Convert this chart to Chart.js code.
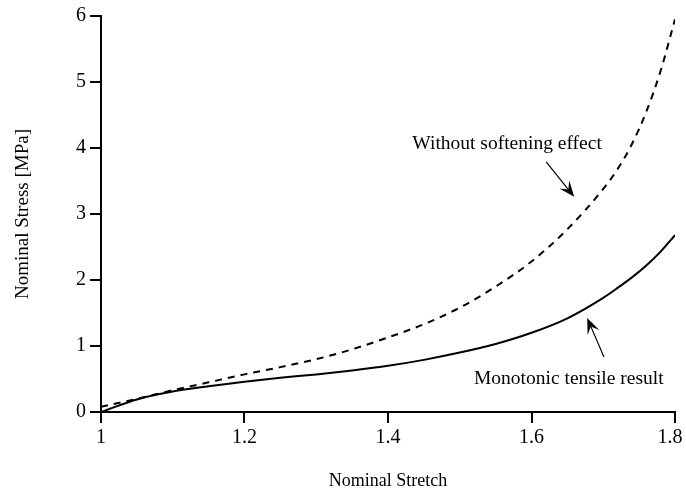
<!DOCTYPE html>
<html>
<head>
<meta charset="utf-8">
<script src="https://cdn.jsdelivr.net/npm/chart.js@4.4.0/dist/chart.umd.min.js"></script>
<style>
  html, body { margin: 0; padding: 0; background: #fff; }
  #wrap { width: 686px; height: 490px; }
</style>
</head>
<body>
<div id="wrap"><canvas id="c" width="686" height="490"></canvas></div>
<script>
// Nominal stretch values
const stretch = [1.00, 1.05, 1.10, 1.15, 1.20, 1.25, 1.30, 1.35, 1.40, 1.45, 1.50, 1.55, 1.60, 1.65, 1.70, 1.72, 1.74, 1.76, 1.78, 1.80];
// Monotonic tensile result (solid)
const monotonic = [0.00, 0.19, 0.31, 0.39, 0.46, 0.52, 0.57, 0.63, 0.70, 0.79, 0.90, 1.03, 1.20, 1.42, 1.73, 1.88, 2.04, 2.22, 2.43, 2.68];
// Without softening effect (dashed)
const noSoftening = [0.08, 0.20, 0.33, 0.45, 0.57, 0.68, 0.80, 0.95, 1.13, 1.33, 1.58, 1.90, 2.28, 2.77, 3.38, 3.68, 4.06, 4.55, 5.17, 5.95];

const xTicks = [1, 1.2, 1.4, 1.6, 1.8];
const yTicks = [0, 1, 2, 3, 4, 5, 6];

const labelTexts = ['Without softening effect', 'Monotonic tensile result'];

const FONT = '"Liberation Serif", "Times New Roman", serif';

function pts(xs, ys) { return xs.map((x, i) => ({ x: x, y: ys[i] })); }

const annotPlugin = {
  id: 'annot',
  afterDatasetsDraw(chart) {
    const { ctx, scales: { x, y } } = chart;
    const X = v => x.getPixelForValue(v), Y = v => y.getPixelForValue(v);
    ctx.save();
    ctx.fillStyle = '#000';
    ctx.strokeStyle = '#000';
    ctx.font = '19.5px ' + FONT;
    ctx.textAlign = 'center';
    ctx.textBaseline = 'middle';
    ctx.fillText(labelTexts[0], X(1.566), Y(4.07));
    ctx.fillText(labelTexts[1], X(1.652), Y(0.50));
    function arrow(x0, y0, x1, y1) {
      const ax = X(x0), ay = Y(y0), bx = X(x1), by = Y(y1);
      const ang = Math.atan2(by - ay, bx - ax);
      const L = 17, W = 0.38;
      ctx.lineWidth = 1.2;
      ctx.beginPath();
      ctx.moveTo(ax, ay);
      ctx.lineTo(bx - Math.cos(ang) * 8, by - Math.sin(ang) * 8);
      ctx.stroke();
      ctx.beginPath();
      ctx.moveTo(bx, by);
      ctx.lineTo(bx - L * Math.cos(ang - W), by - L * Math.sin(ang - W));
      ctx.lineTo(bx - L * 0.55 * Math.cos(ang), by - L * 0.55 * Math.sin(ang));
      ctx.lineTo(bx - L * Math.cos(ang + W), by - L * Math.sin(ang + W));
      ctx.closePath();
      ctx.fill();
    }
    arrow(1.6205, 3.79, 1.6595, 3.26);
    arrow(1.701, 0.833, 1.6776, 1.424);
    ctx.restore();
  }
};

new Chart(document.getElementById('c'), {
  type: 'scatter',
  data: {
    datasets: [
      {
        label: labelTexts[1],
        data: pts(stretch, monotonic),
        showLine: true,
        borderColor: '#000',
        borderWidth: 2,
        pointRadius: 0,
        cubicInterpolationMode: 'monotone',
        fill: false
      },
      {
        label: labelTexts[0],
        data: pts(stretch, noSoftening),
        showLine: true,
        borderColor: '#000',
        borderWidth: 2,
        borderDash: [7, 6],
        pointRadius: 0,
        cubicInterpolationMode: 'monotone',
        fill: false
      }
    ]
  },
  options: {
    responsive: false,
    animation: false,
    devicePixelRatio: 1,
    layout: { padding: { top: 16, right: 11, left: 0, bottom: 0 } },
    plugins: { legend: { display: false }, tooltip: { enabled: false } },
    scales: {
      x: {
        type: 'linear',
        min: 1, max: 1.8,
        afterBuildTicks: s => { s.ticks = xTicks.map(v => ({ value: v })); },
        afterFit: s => { s.height = 78; s.paddingLeft = 0; s.paddingRight = 0; },
        grid: { drawOnChartArea: false, drawTicks: true, tickLength: 11, color: '#000', lineWidth: 2 },
        border: { display: true, color: '#000', width: 2 },
        ticks: {
          color: '#000', font: { family: FONT, size: 20 }, padding: 3,
          maxRotation: 0, autoSkip: false,
          callback: (v, i, arr) => String(Number(v.toFixed(2))) + (i === arr.length - 1 ? '  ' : '')
        },
        title: { display: true, text: 'Nominal Stretch', color: '#000', font: { family: FONT, size: 18, lineHeight: 1 }, padding: { top: 0, bottom: 0 } }
      },
      y: {
        type: 'linear',
        min: 0, max: 6,
        afterBuildTicks: s => { s.ticks = yTicks.map(v => ({ value: v })); },
        afterFit: s => { s.width = 101; s.paddingTop = 0; s.paddingBottom = 0; },
        grid: { drawOnChartArea: false, drawTicks: true, tickLength: 11, color: '#000', lineWidth: 2 },
        border: { display: true, color: '#000', width: 2 },
        ticks: {
          color: '#000', font: { family: FONT, size: 20 }, padding: 4,
          autoSkip: false,
          callback: v => String(v)
        },
        title: { display: true, text: 'Nominal Stress [MPa]', color: '#000', font: { family: FONT, size: 19, lineHeight: 1 }, padding: { top: 14, bottom: 0 } }
      }
    }
  },
  plugins: [annotPlugin]
});
</script>
</body>
</html>
